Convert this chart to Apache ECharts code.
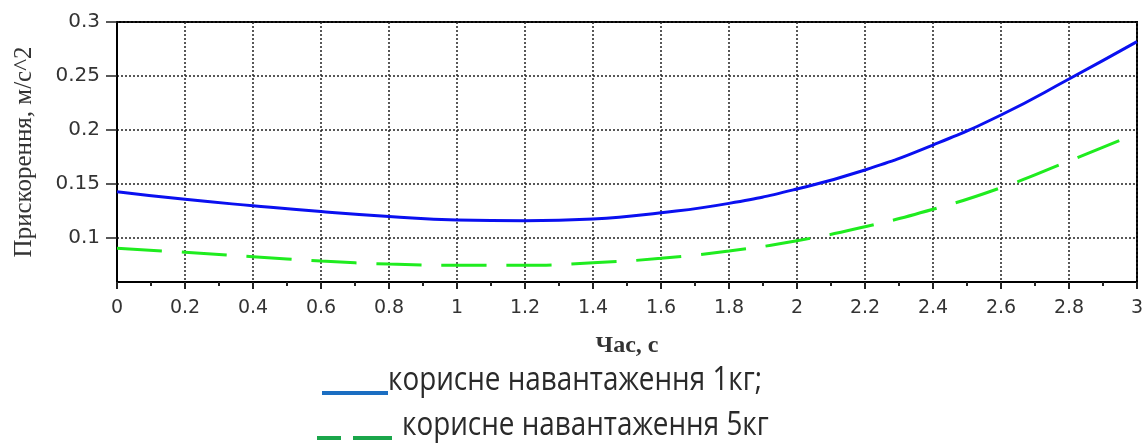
<!DOCTYPE html>
<html>
<head>
<meta charset="utf-8">
<script src="https://cdn.jsdelivr.net/npm/echarts@6/dist/echarts.min.js"></script>
<style>
  html, body { margin: 0; padding: 0; background: #fff; }
  #chart { width: 1144px; height: 443px; }
</style>
</head>
<body>
<div id="chart"></div>
<script>
// час, с
const timeValues = [0, 0.2, 0.4, 0.6, 0.8, 1, 1.2, 1.4, 1.6, 1.8, 2, 2.2, 2.4, 2.6, 2.8, 3]
// прискорення, 1 кг
const load1kg = [0.1429, 0.1358, 0.1299, 0.1245, 0.1200, 0.1167, 0.1160, 0.1176, 0.1234, 0.1321, 0.1454, 0.1630, 0.1861, 0.2139, 0.2472, 0.2818]
// прискорення, 5 кг
const load5kg = [0.0905, 0.0868, 0.0827, 0.0787, 0.0759, 0.0748, 0.0747, 0.0771, 0.0812, 0.0880, 0.0975, 0.1105, 0.1266, 0.1466, 0.1713, 0.1970]
const yTicks = [0.1, 0.15, 0.2, 0.25, 0.3]
const legendNames = ['корисне навантаження 1кг;', 'корисне навантаження 5кг']

const chart = echarts.init(document.getElementById('chart'))

const gridLine = { show: true, lineStyle: { color: '#222', width: 1.5, type: [2, 2] } }

chart.setOption({
  animation: false,
  grid: {
    left: 117,
    right: 7,
    top: 22,
    bottom: 161,
    outerBoundsMode: 'none',
    show: true,
    borderColor: '#000',
    borderWidth: 2,
    backgroundColor: 'transparent'
  },
  xAxis: {
    type: 'value',
    min: 0,
    max: 3,
    interval: 0.2,
    name: 'Час, с',
    nameLocation: 'middle',
    nameGap: 52,
    nameTextStyle: { fontFamily: 'Liberation Serif', fontWeight: 'bold', fontSize: 24, color: '#333' },
    axisLine: { show: true, lineStyle: { color: '#000', width: 2 } },
    axisTick: { show: true, length: 7, lineStyle: { color: '#222', width: 2 } },
    minorTick: { show: true, splitNumber: 2, length: 4, lineStyle: { color: '#222', width: 2 } },
    axisLabel: { margin: 17, fontFamily: 'DejaVu Sans', fontSize: 19, color: '#333' },
    splitLine: gridLine
  },
  yAxis: {
    type: 'value',
    min: 0.0593,
    max: 0.3,
    name: 'Прискорення, м/с^2',
    nameLocation: 'middle',
    nameGap: 80,
    nameRotate: 90,
    nameTextStyle: { fontFamily: 'Liberation Serif', fontSize: 25, color: '#333' },
    axisLine: { show: true, lineStyle: { color: '#000', width: 2 } },
    axisTick: { show: true, length: 11, customValues: yTicks, lineStyle: { color: '#222', width: 1.5 } },
    axisLabel: { margin: 17, customValues: yTicks, fontFamily: 'DejaVu Sans', fontSize: 20, color: '#333' },
    splitLine: gridLine
  },
  series: [
    {
      name: legendNames[0],
      type: 'line',
      data: timeValues.map((t, i) => [t, load1kg[i]]),
      smooth: true,
      showSymbol: false,
      lineStyle: { color: '#0a10f0', width: 3 }
    },
    {
      name: legendNames[1],
      type: 'line',
      data: timeValues.map((t, i) => [t, load5kg[i]]),
      smooth: true,
      showSymbol: false,
      lineStyle: { color: '#1fec1f', width: 3, type: [45, 20] }
    }
  ],
  graphic: [
    { type: 'line', shape: { x1: 322, y1: 393, x2: 388, y2: 393 }, style: { stroke: '#1b6ec2', lineWidth: 4 } },
    { type: 'text', x: 388, y: 365, scaleX: 0.87, style: { text: legendNames[0], fontFamily: 'Open Sans', fontSize: 32, fill: '#2a2a2a' } },
    { type: 'line', shape: { x1: 317, y1: 438, x2: 341, y2: 438 }, style: { stroke: '#1aa64a', lineWidth: 4 } },
    { type: 'line', shape: { x1: 353, y1: 438, x2: 392, y2: 438 }, style: { stroke: '#1aa64a', lineWidth: 4 } },
    { type: 'text', x: 402, y: 410, scaleX: 0.87, style: { text: legendNames[1], fontFamily: 'Open Sans', fontSize: 32, fill: '#2a2a2a' } }
  ]
})
</script>
</body>
</html>
